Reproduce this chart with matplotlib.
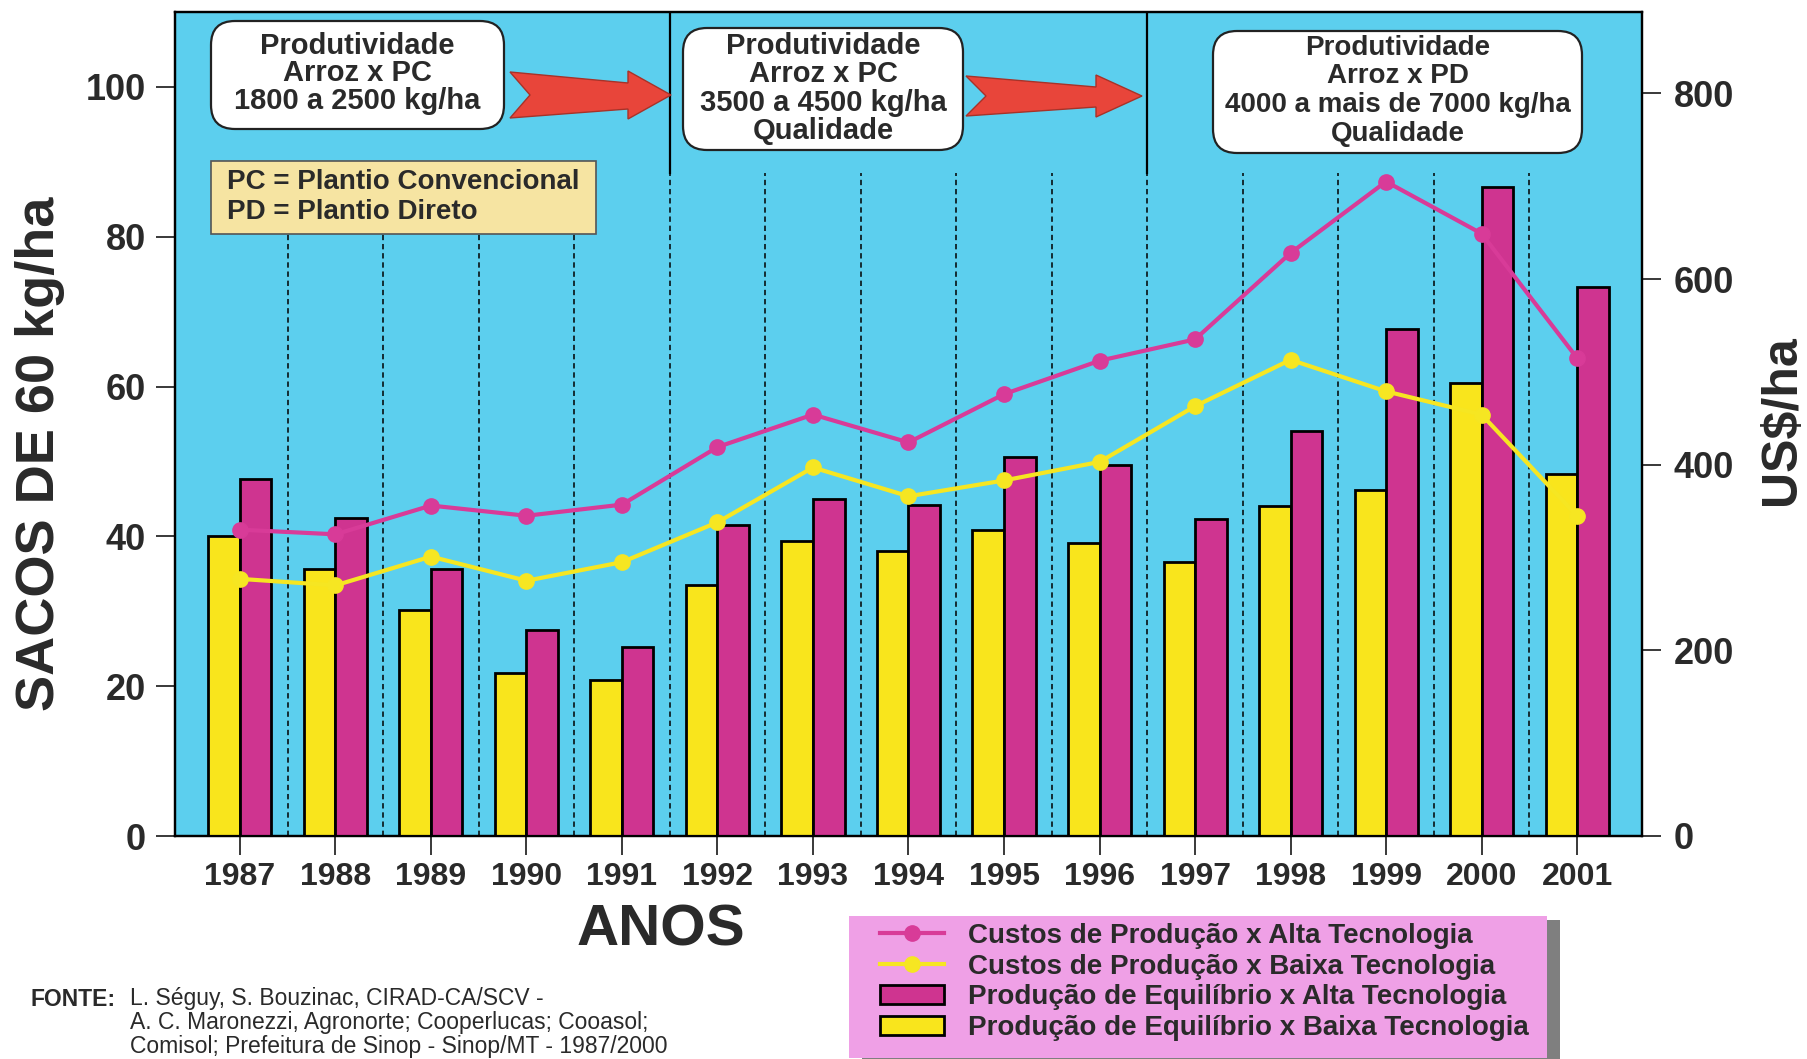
import matplotlib
matplotlib.use("Agg")
import numpy as np
import matplotlib.pyplot as plt
from matplotlib import font_manager
from matplotlib.patches import FancyBboxPatch, Polygon, Rectangle
from matplotlib.transforms import IdentityTransform

# data
anos = ["1987", "1988", "1989", "1990", "1991", "1992", "1993", "1994",
        "1995", "1996", "1997", "1998", "1999", "2000", "2001"]
prod_baixa = [40.0, 35.6, 30.2, 21.8, 20.8, 33.5, 39.4, 38.0, 40.8, 39.1, 36.6, 44.0, 46.2, 60.5, 48.3]
prod_alta = [47.6, 42.4, 35.7, 27.5, 25.2, 41.5, 45.0, 44.2, 50.6, 49.5, 42.3, 54.0, 67.7, 86.7, 73.3]
custo_alta = [330, 325, 356, 345, 357, 419, 454, 424, 476, 512, 535, 628, 705, 649, 515]
custo_baixa = [277, 270, 301, 275, 295, 338, 397, 366, 383, 403, 463, 513, 479, 454, 345]

W, H = 1808, 1059
plt.rcParams["font.family"] = ["Liberation Sans", "DejaVu Sans"]
plt.rcParams["font.weight"] = "bold"
names = {f.name for f in font_manager.fontManager.ttflist}
narrow = "Liberation Sans Narrow" if "Liberation Sans Narrow" in names else "Liberation Sans"

CIANO = "#5ccfee"
AMARELO = "#f9e51c"
MAGENTA = "#cf3490"
LINHA_MAG = "#d83b98"
LINHA_AMA = "#f6e622"
TXT = "#2a2a2a"
PX = IdentityTransform()

fig = plt.figure(figsize=(W / 100, H / 100), dpi=100)
ax = fig.add_axes([175 / W, 1 - 836 / H, (1642 - 175) / W, (836 - 12) / H])
ax.set_facecolor(CIANO)
ax2 = ax.twinx()

x = np.arange(len(anos))
bw = 0.33
ax.bar(x - bw / 2, prod_baixa, bw, color=AMARELO, edgecolor="black", linewidth=2, zorder=3,
       label="Produção de Equilíbrio x Baixa Tecnologia")
ax.bar(x + bw / 2, prod_alta, bw, color=MAGENTA, edgecolor="black", linewidth=2, zorder=3,
       label="Produção de Equilíbrio x Alta Tecnologia")

# separators between years
ysplit = 88.5
for m in x[:-1] + 0.5:
    ax.plot([m, m], [0, ysplit], color="black", lw=1.1, ls=(0, (3.5, 2.5)), zorder=1)
for m in [4.5, 9.5]:
    ax.plot([m, m], [ysplit, 110], color="black", lw=1.6, zorder=1)

ax2.plot(x, custo_alta, color=LINHA_MAG, lw=3, marker="o", ms=11, zorder=4,
         label="Custos de Produção x Alta Tecnologia")
ax2.plot(x, custo_baixa, color=LINHA_AMA, lw=3, marker="o", ms=11, zorder=4,
         label="Custos de Produção x Baixa Tecnologia")

ax.set_xlim(-0.68, 14.68)
ax.set_ylim(0, 110)
ax2.set_ylim(0, 110 * 8.07)
ax.set_yticks([0, 20, 40, 60, 80, 100])
ax2.set_yticks([0, 200, 400, 600, 800])
ax.set_xticks(x, anos)
ax.tick_params(axis="y", length=14, width=1.3, pad=7, labelsize=26, colors=TXT)
ax.tick_params(axis="x", length=14, width=1.3, pad=5, labelsize=23, colors=TXT)
ax2.tick_params(axis="y", length=14, width=1.3, pad=9, labelsize=26, colors=TXT)
for a in (ax, ax2):
    for s in a.spines.values():
        s.set_linewidth(1.6)

fig.text(40, H - 454, "SACOS DE 60 kg/ha", rotation=90, ha="center", va="center",
         fontsize=39, color=TXT, transform=PX)
fig.text(1782, H - 420, "US$/ha", rotation=90, ha="center", va="center",
         fontsize=36, color=TXT, transform=PX)
fig.text(661, H - 930, "ANOS", ha="center", va="center", fontsize=42, color=TXT,
         family=narrow, transform=PX)

# rounded boxes on top
caixas = [
    (211, 21, 293, 108, ["Produtividade", "Arroz x PC", "1800 a 2500 kg/ha"], [46, 73, 101], 21),
    (683, 28, 280, 122, ["Produtividade", "Arroz x PC", "3500 a 4500 kg/ha", "Qualidade"], [46, 74, 103, 131], 21),
    (1213, 31, 369, 122, ["Produtividade", "Arroz x PD", "4000 a mais de 7000 kg/ha", "Qualidade"], [48, 76, 105, 134], 20),
]
for bx, by, bwid, bh, linhas, ys, fs in caixas:
    fig.add_artist(FancyBboxPatch((bx, H - by - bh), bwid, bh,
                                  boxstyle="round,pad=0,rounding_size=24",
                                  fc="white", ec="#222222", lw=1.6, transform=PX, zorder=2))
    for t, yy in zip(linhas, ys):
        fig.text(bx + bwid / 2, H - yy, t, ha="center", va="center", fontsize=fs,
                 color=TXT, transform=PX, zorder=3)

def seta(x0, x1, yt, yb, xh):
    yc = (yt + yb) / 2
    pts = [(x0, yt), (x0 + 20, yc), (x0, yb), (xh, yb - 9), (xh, yb + 1),
           (x1, yc), (xh, yt - 1), (xh, yt + 11)]
    fig.add_artist(Polygon([(p, H - q) for p, q in pts], closed=True, fc="#e8453a",
                           ec="#a83228", lw=1, transform=PX, zorder=2))

seta(510, 671, 72, 118, 628)
seta(966, 1142, 76, 116, 1096)

# PC / PD box
fig.add_artist(Rectangle((211, H - 234), 385, 73, fc="#f6e4a2", ec="#555555", lw=1.2,
                         transform=PX, zorder=2))
fig.text(227, H - 182, "PC = Plantio Convencional", ha="left", va="center", fontsize=20,
         color=TXT, transform=PX, zorder=3)
fig.text(227, H - 212, "PD = Plantio Direto", ha="left", va="center", fontsize=20,
         color=TXT, transform=PX, zorder=3)

# legend panel with shadow
fig.add_artist(Rectangle((862, H - 1070), 698, 150, fc="#7f7f7f", ec="none", transform=PX, zorder=1))
fig.add_artist(Rectangle((849, H - 1058), 698, 142, fc="#efa0e6", ec="none", transform=PX, zorder=1.5))
h1, l1 = ax2.get_legend_handles_labels()
h0, l0 = ax.get_legend_handles_labels()
fig.legend(h1 + h0[::-1], l1 + l0[::-1], loc="upper left", bbox_to_anchor=(880, H - 923),
           bbox_transform=PX, frameon=False, handlelength=2.3,
           handletextpad=0.85, labelspacing=0.17, borderpad=0, borderaxespad=0,
           prop={"size": 20, "weight": "bold"}, labelcolor=TXT)

# source
fig.text(31, H - 999, "FONTE:", ha="left", va="center", fontsize=16.5, color=TXT,
         family=narrow, transform=PX)
fontes = ["L. Séguy, S. Bouzinac, CIRAD-CA/SCV -",
          "A. C. Maronezzi, Agronorte; Cooperlucas; Cooasol;",
          "Comisol; Prefeitura de Sinop - Sinop/MT - 1987/2000"]
for i, t in enumerate(fontes):
    fig.text(130, H - 999 - 24 * i, t, ha="left", va="center", fontsize=16.5, color=TXT,
             family=narrow, weight="normal", transform=PX)

fig.savefig("out.png", dpi=100)
